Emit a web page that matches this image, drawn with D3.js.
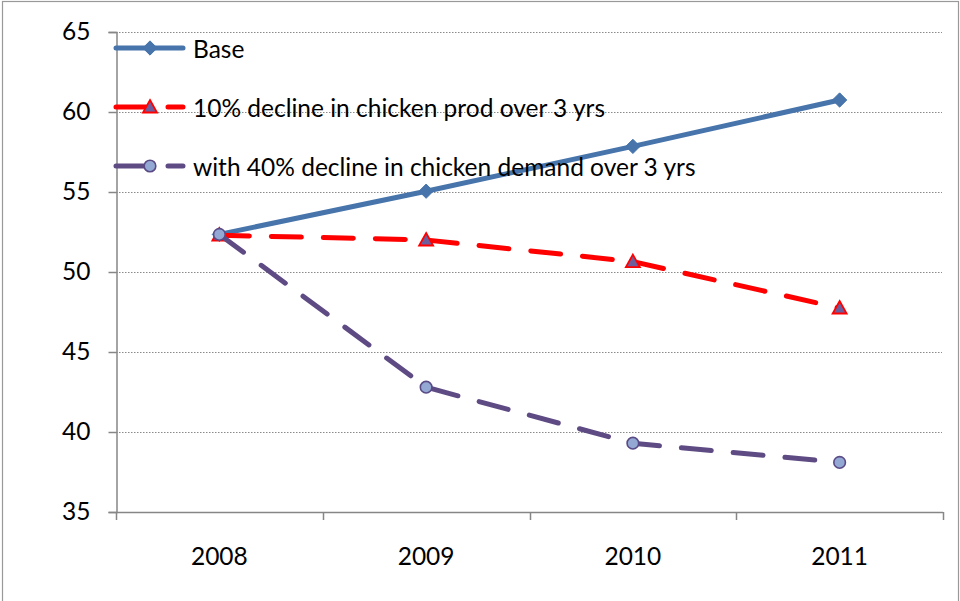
<!DOCTYPE html>
<html>
<head>
<meta charset="utf-8">
<script src="https://cdn.jsdelivr.net/npm/d3@7"></script>
<style>
  html, body { margin: 0; padding: 0; background: #fff; }
  svg { display: block; }
  text { font-family: Lato, "Open Sans", sans-serif; fill: #000; }
</style>
</head>
<body>
<svg id="chart" width="960" height="601"></svg>
<script>
// Data
const years = ["2008", "2009", "2010", "2011"];
const baseValues = [52.35, 55.05, 57.85, 60.75];
const prodDeclineValues = [52.3, 52.0, 50.65, 47.75];
const demandDeclineValues = [52.35, 42.8, 39.3, 38.1];
const seriesNames = [
  "Base",
  "10% decline in chicken prod over 3 yrs",
  "with 40% decline in chicken demand over 3 yrs"
];
const yTicks = [35, 40, 45, 50, 55, 60, 65];

const series = [
  { name: seriesNames[0], values: baseValues, color: "#4674AB", dash: null, marker: "diamond",
    fill: "#4674AB", stroke: "#4674AB" },
  { name: seriesNames[1], values: prodDeclineValues, color: "#FF0000", dash: "30,22", marker: "triangle",
    fill: "#6C5E9C", stroke: "#FF0000" },
  { name: seriesNames[2], values: demandDeclineValues, color: "#5F4B84", dash: "30,22", marker: "circle",
    fill: "#93A8D2", stroke: "#5A4A86" }
];

const svg = d3.select("#chart");
const W = 960, H = 601;
const plot = { left: 116, right: 943, top: 32, bottom: 512 };
const fontSize = 24.5;

// Outer chart border
svg.append("rect")
  .attr("x", 2.5).attr("y", 1.5)
  .attr("width", W - 4).attr("height", H + 4)
  .attr("fill", "none").attr("stroke", "#999").attr("stroke-width", 1.2);

const x = d3.scaleBand().domain(years).range([plot.left, plot.right]).padding(0);
const y = d3.scaleLinear().domain([35, 65]).range([plot.bottom, plot.top]);
const cx = d => x(d) + x.bandwidth() / 2;

// Dotted gridlines
svg.append("g")
  .selectAll("line")
  .data(yTicks.filter(t => t !== 35))
  .join("line")
  .attr("x1", plot.left).attr("x2", plot.right - 1)
  .attr("y1", d => Math.round(y(d)) + 0.5).attr("y2", d => Math.round(y(d)) + 0.5)
  .attr("stroke", "#8a8a8a").attr("stroke-width", 1)
  .attr("stroke-dasharray", "1.5,1.5");

// Y axis
const yAxis = svg.append("g")
  .attr("transform", `translate(${plot.left + 0.5},0)`)
  .call(d3.axisLeft(y).tickValues(yTicks).tickSize(8).tickPadding(18).tickFormat(d3.format("d")));
yAxis.select(".domain").attr("stroke", "#868686").attr("stroke-width", 1.5);
yAxis.selectAll(".tick line").attr("stroke", "#868686").attr("stroke-width", 1.5);
yAxis.selectAll(".tick text")
  .attr("font-size", fontSize).attr("fill", "#000")
  .attr("font-family", "Lato, 'Open Sans', sans-serif");

// X axis with ticks at category boundaries
const xAxisG = svg.append("g");
xAxisG.append("line")
  .attr("x1", plot.left).attr("x2", plot.right)
  .attr("y1", plot.bottom + 0.5).attr("y2", plot.bottom + 0.5)
  .attr("stroke", "#868686").attr("stroke-width", 1.5);
const boundaries = years.map(d => x(d)).concat([x(years[years.length - 1]) + x.bandwidth()]);
xAxisG.selectAll("line.tick")
  .data(boundaries)
  .join("line")
  .attr("class", "tick")
  .attr("x1", d => Math.round(d) + 0.5).attr("x2", d => Math.round(d) + 0.5)
  .attr("y1", plot.bottom).attr("y2", plot.bottom + 8)
  .attr("stroke", "#868686").attr("stroke-width", 1.5);
xAxisG.selectAll("text")
  .data(years)
  .join("text")
  .attr("x", d => cx(d))
  .attr("y", 555)
  .attr("text-anchor", "middle")
  .attr("dominant-baseline", "central")
  .attr("font-size", fontSize)
  .text(d => d);

// Marker drawing
function drawMarker(g, s, px, py) {
  if (s.marker === "diamond") {
    g.append("path")
      .attr("d", d3.symbol(d3.symbolDiamond2, 130)())
      .attr("transform", `translate(${px},${py})`)
      .attr("fill", s.fill).attr("stroke", s.stroke).attr("stroke-width", 1);
  } else if (s.marker === "triangle") {
    g.append("path")
      .attr("d", `M0,-7 L7,5.5 L-7,5.5 Z`)
      .attr("transform", `translate(${px},${py})`)
      .attr("fill", s.fill).attr("stroke", s.stroke).attr("stroke-width", 1.8)
      .attr("stroke-linejoin", "miter");
  } else {
    g.append("circle")
      .attr("cx", px).attr("cy", py).attr("r", 5.8)
      .attr("fill", s.fill).attr("stroke", s.stroke).attr("stroke-width", 1.6);
  }
}

const line = d3.line().x(d => cx(d.year)).y(d => y(d.value));

// Series lines and markers
series.forEach(s => {
  const g = svg.append("g");
  const pts = years.map((yr, i) => ({ year: yr, value: s.values[i] }));
  g.append("path")
    .datum(pts)
    .attr("d", line)
    .attr("fill", "none")
    .attr("stroke", s.color)
    .attr("stroke-width", 5)
    .attr("stroke-linecap", "round")
    .attr("stroke-linejoin", "round")
    .attr("stroke-dasharray", s.dash);
  pts.forEach(p => drawMarker(g, s, cx(p.year), y(p.value)));
});

// Legend
const legendY = [48, 107, 166];
const legend = svg.append("g");
series.forEach((s, i) => {
  const ly = legendY[i];
  legend.append("line")
    .attr("x1", 116).attr("x2", 183)
    .attr("y1", ly).attr("y2", ly)
    .attr("stroke", s.color).attr("stroke-width", 5)
    .attr("stroke-linecap", "round")
    .attr("stroke-dasharray", s.dash);
  drawMarker(legend, s, 150, ly);
  legend.append("text")
    .attr("x", 193).attr("y", ly)
    .attr("dominant-baseline", "central")
    .attr("font-size", fontSize)
    .text(s.name);
});
</script>
</body>
</html>
